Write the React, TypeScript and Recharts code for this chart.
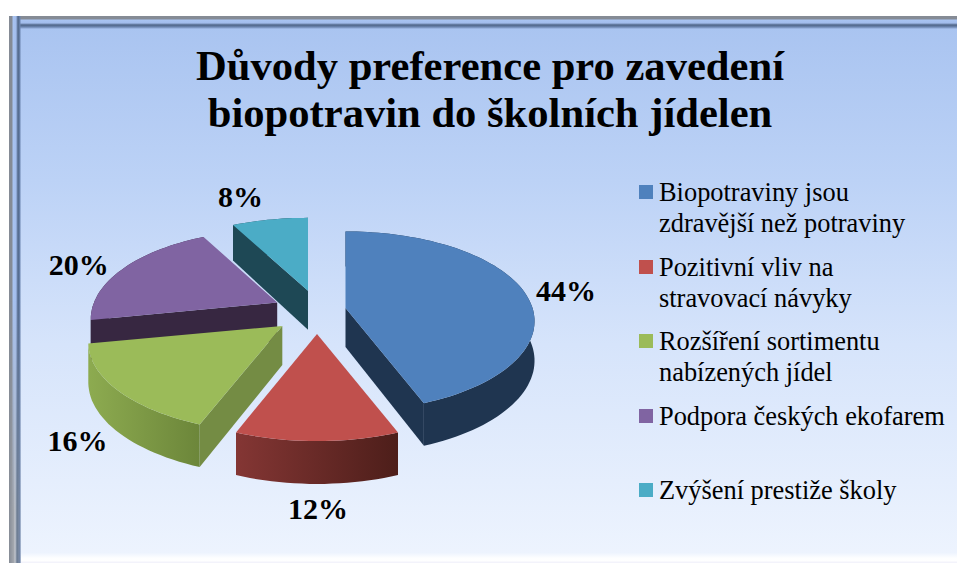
import { PieChart, Pie, Legend } from "recharts";

const nazvy = [
  "Biopotraviny jsou\nzdravější než potraviny",
  "Pozitivní vliv na\nstravovací návyky",
  "Rozšíření sortimentu\nnabízených jídel",
  "Podpora českých ekofarem",
  "Zvýšení prestiže školy",
];
const hodnoty = [44, 12, 16, 20, 8];
const barvy = ["#4f81bd", "#c0504d", "#9bbb59", "#8064a2", "#4bacc6"];
const barvyPlast = ["#1f3550", "url(#plastRed)", "url(#plastGreen)", "#372741", "#1e4855"];
const barvyRez = ["#1f3550", "#5a2522", "#748c44", "#372741", "#1e4855"];

// horizontal explosion per slice, vertical one is shared
const vysunX = [29, 36, 45, 44, 36];
const vysunY = 22;
// the original 3D view is not a clean ellipse, so each slice gets its own tweak
const meritkoX = [1, 1, 1.02, 0.98, 1];
const persp = [0.15, 0.19, 0.19, 0.19, 0.19];
// label nudge from the outer edge of the slice
const posunPopisku = [
  [42, 0],
  [1, 68],
  [-38, 52],
  [-46, -2],
  [-32, -22],
];

const dataRows = nazvy.map((name, i) => ({ name, value: hodnoty[i], fill: barvy[i] }));

const POMER = 0.481;
const HLOUBKA = 39;

const W = 957;
const H = 563;

type Bod = { x: number; y: number; d?: number };

function geom(props: any) {
  const i = nazvy.indexOf(props.payload?.name ?? props.name);
  const { cx, cy, outerRadius: r } = props;
  const a0 = 90 - props.startAngle;
  const a1 = 90 - props.endAngle;
  const mid = ((a0 + a1) / 2) * (Math.PI / 180);
  const ox = cx + vysunX[i] * Math.sin(mid);
  const oy = cy - vysunY * Math.cos(mid);
  const pt = (deg: number) => {
    const t = (deg * Math.PI) / 180;
    const u = Math.sin(t);
    const v = -Math.cos(t);
    const s = 1 + persp[i] * v;
    return {
      x: ox + r * meritkoX[i] * u * s,
      y: oy + r * POMER * v * s,
      d: HLOUBKA * (1 + 0.1 * v),
    };
  };
  const oblouk: { x: number; y: number; d: number }[] = [];
  const kroky = Math.ceil((a1 - a0) / 2);
  for (let k = 0; k <= kroky; k++) oblouk.push(pt(a0 + ((a1 - a0) * k) / kroky));
  return { i, ox, oy, oblouk };
}

const toPath = (pts: Bod[]) =>
  "M" + pts.map((p) => `${p.x.toFixed(1)},${p.y.toFixed(1)}`).join("L") + "Z";

// a cut face shows only when the slice lies above its edge on screen
function rezViditelny(s: Bod, k: Bod, m: Bod) {
  const dx = k.x - s.x;
  if (Math.abs(dx) < 0.5) return false;
  return m.y < s.y + ((k.y - s.y) / dx) * (m.x - s.x);
}

function wallShape(poradi: number[]) {
  return (props: any) => {
    const { i, ox, oy, oblouk } = geom(props);
    if (!poradi.includes(i)) return <g />;
    const dolni = oblouk.map((p) => ({ x: p.x, y: p.y + p.d }));
    const plast = [...oblouk, ...[...dolni].reverse()];
    const stred = { x: ox, y: oy };
    const stredD = { x: ox, y: oy + HLOUBKA };
    const prvni = oblouk[0];
    const posl = oblouk[oblouk.length - 1];
    const m = oblouk[Math.floor(oblouk.length / 2)];
    return (
      <g>
        <path d={toPath(plast)} fill={barvyPlast[i]} />
        {rezViditelny(stred, prvni, m) && (
          <path d={toPath([stred, prvni, { x: prvni.x, y: prvni.y + prvni.d }, stredD])} fill={barvyRez[i]} />
        )}
        {rezViditelny(stred, posl, m) && (
          <path d={toPath([stred, posl, { x: posl.x, y: posl.y + posl.d }, stredD])} fill={barvyRez[i]} />
        )}
      </g>
    );
  };
}

function topShape(props: any) {
  const { i, ox, oy, oblouk } = geom(props);
  return <path d={toPath([{ x: ox, y: oy }, ...oblouk])} fill={barvy[i]} />;
}

function popisek(props: any) {
  const { i, oblouk } = geom(props);
  const p = oblouk[Math.floor(oblouk.length / 2)];
  return (
    <text
      key={i}
      x={p.x + posunPopisku[i][0]}
      y={p.y + posunPopisku[i][1]}
      dy={10}
      textAnchor="middle"
      fontFamily="Liberation Serif"
      fontWeight="bold"
      fontSize={30}
      fill="#000"
    >
      {hodnoty[i]}%
    </text>
  );
}

function Legenda({ payload }: any) {
  const polozky = (payload || []).filter(
    (p: any, idx: number, all: any[]) => all.findIndex((q) => q.value === p.value) === idx
  );
  return (
    <div style={{ fontFamily: "Liberation Serif", fontSize: 26.4, lineHeight: "31px", color: "#000" }}>
      {polozky.map((p: any, i: number) => (
        <div key={p.value} style={{ position: "relative", height: 74.5, paddingLeft: 20, whiteSpace: "pre-line" }}>
          <span
            style={{
              position: "absolute",
              left: 0,
              top: 8,
              width: 14,
              height: 14,
              background: barvy[i],
            }}
          />
          {p.value}
        </div>
      ))}
    </div>
  );
}

export default function App() {
  return (
    <div style={{ position: "fixed", left: 0, top: 0, width: W, height: H, background: "#fff", overflow: "hidden" }}>
      {/* ramecek */}
      <div
        style={{
          position: "absolute",
          left: 9,
          top: 16,
          width: 948,
          height: 547,
          background: "linear-gradient(180deg,#a8c3f0 0%,#bcd2f6 30%,#d6e4fb 60%,#eef4fe 100%)",
        }}
      />
      <div
        style={{
          position: "absolute",
          left: 9,
          top: 16,
          width: 948,
          height: 13,
          background: "linear-gradient(180deg,#858b95 0,#858b95 3px,#a9c4f2 4px,#a2bceb 7px,#4f6587 9px,#6d86b0 11px,#a8c3f0 13px)",
        }}
      />
      <div
        style={{
          position: "absolute",
          left: 9,
          top: 16,
          width: 12,
          height: 547,
          background: "linear-gradient(90deg,#858b95 0,#858b95 3px,#a9c4f2 4px,#a2bceb 7px,#4f6587 9px,#6d86b0 11px,#a8c3f000 12px)",
        }}
      />
      <div
        style={{
          position: "absolute",
          left: 9,
          top: 300,
          width: 12,
          height: 263,
          background: "linear-gradient(90deg,#858b95 0,#a5a9b0 5px,#c4c8d0 6px,#6a7a90 8px,#7a8aa4 10px,#d8e4f800 12px)",
          WebkitMaskImage: "linear-gradient(180deg,transparent,#000 80%)",
          maskImage: "linear-gradient(180deg,transparent,#000 80%)",
        }}
      />
      <div
        style={{
          position: "absolute",
          left: 21,
          top: 553,
          width: 936,
          height: 10,
          background: "linear-gradient(180deg,#eef4fe 0,#fdfeff 5px,#fff 8px,#f3f3fb 9px)",
        }}
      />
      <PieChart
        width={W}
        height={H}
        margin={{ top: 0, right: 0, bottom: 0, left: 0 }}
        style={{ position: "absolute", left: 0, top: 0 }}
      >
        <defs>
          <linearGradient id="plastRed" x1="0" y1="0" x2="1" y2="0">
            <stop offset="0" stopColor="#843634" />
            <stop offset="1" stopColor="#4d1e1a" />
          </linearGradient>
          <linearGradient id="plastGreen" x1="0" y1="0" x2="1" y2="0">
            <stop offset="0" stopColor="#8dab50" />
            <stop offset="1" stopColor="#6c863a" />
          </linearGradient>
        </defs>
        <text textAnchor="middle" fontFamily="Liberation Serif" fontWeight="bold" fontSize={42.6} fill="#000">
          <tspan x={490} y={80}>Důvody preference pro zavedení</tspan>
          <tspan x={490} y={127}>biopotravin do školních jídelen</tspan>
        </text>
        <Pie
          data={dataRows}
          dataKey="value"
          nameKey="name"
          cx={317}
          cy={312}
          outerRadius={187}
          startAngle={90}
          endAngle={-270}
          isAnimationActive={false}
          legendType="none"
          shape={wallShape([3, 4])}
        />
        <Pie
          data={dataRows}
          dataKey="value"
          nameKey="name"
          cx={317}
          cy={312}
          outerRadius={187}
          startAngle={90}
          endAngle={-270}
          isAnimationActive={false}
          legendType="none"
          shape={wallShape([0, 1, 2])}
        />
        <Pie
          data={dataRows}
          dataKey="value"
          nameKey="name"
          cx={317}
          cy={312}
          outerRadius={187}
          startAngle={90}
          endAngle={-270}
          isAnimationActive={false}
          shape={topShape}
          label={popisek}
          labelLine={false}
        />
        <Legend
          content={<Legenda />}
          itemSorter={null}
          wrapperStyle={{ position: "absolute", left: 639, top: 177, width: 318, bottom: "auto" }}
        />
      </PieChart>
    </div>
  );
}
